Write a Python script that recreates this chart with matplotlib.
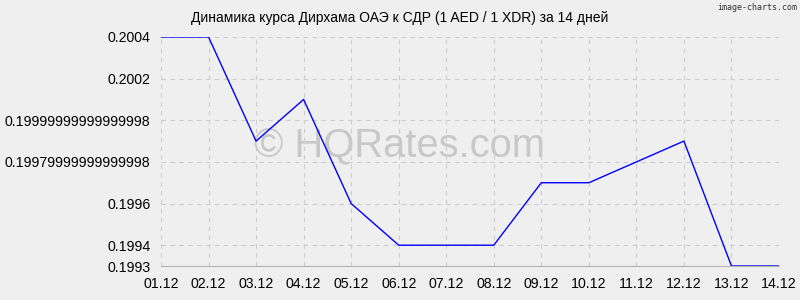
import matplotlib
matplotlib.use('Agg')
import matplotlib.pyplot as plt

# Данные
dias = ['01.12', '02.12', '03.12', '04.12', '05.12', '06.12', '07.12',
        '08.12', '09.12', '10.12', '11.12', '12.12', '13.12', '14.12']
cotacao = [0.2004, 0.2004, 0.1999, 0.2001, 0.1996, 0.1994, 0.1994,
           0.1994, 0.1997, 0.1997, 0.1998, 0.1999, 0.1993, 0.1993]
yticks = [0.2004, 0.2002, 0.19999999999999998, 0.19979999999999998,
          0.1996, 0.1994, 0.1993]
ytick_labels = ['0.2004', '0.2002', '0.19999999999999998',
                '0.19979999999999998', '0.1996', '0.1994', '0.1993']

plt.rcParams['font.family'] = ['Liberation Sans', 'DejaVu Sans']

fig = plt.figure(figsize=(8, 3), dpi=100, facecolor='#efefef')
ax = fig.add_axes([0.20125, 0.1133, 0.7725, 0.7634])
ax.set_facecolor('#efefef')

# marca d'água atrás da grade
fig.text(0.5, 0.513, '© HQRates.com', ha='center', va='center',
         fontsize=28.7, color='#c8c8c8', zorder=0)
ax.set_zorder(1)
ax.patch.set_alpha(0)

x = list(range(len(dias)))
ax.plot(x, cotacao, color='#0000ff', linewidth=1, zorder=3)

ax.set_xlim(0, len(dias) - 1)
ax.set_ylim(0.1993, 0.2004)
ax.set_xticks(x)
ax.set_xticklabels(dias, fontsize=10.2)
ax.set_yticks(yticks)
ax.set_yticklabels(ytick_labels, fontsize=10.2)
ax.tick_params(axis='x', length=0, pad=8)
ax.tick_params(axis='y', length=0, pad=7.5)

ax.grid(True, color='#cccccc', linestyle=(0, (4, 4)), linewidth=0.8)
for s in ['top', 'right', 'left']:
    ax.spines[s].set_visible(False)
ax.spines['bottom'].set_color('#b4b4b4')

fig.text(0.5, 0.94, 'Динамика курса Дирхама ОАЭ к СДР (1 AED / 1 XDR) за 14 дней',
         ha='center', va='center', fontsize=10)
fig.text(0.996, 0.975, 'image-charts.com', ha='right', va='center',
         fontsize=6, family='DejaVu Sans Mono', color='#333333')

plt.savefig('out.png', dpi=100, facecolor='#efefef')
